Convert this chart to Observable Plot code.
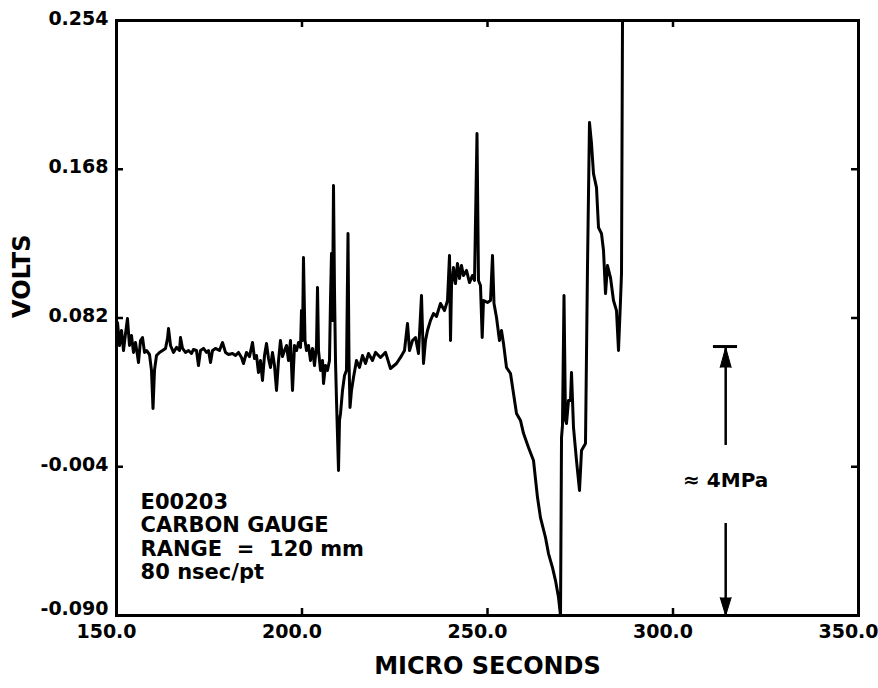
<!DOCTYPE html>
<html>
<head>
<meta charset="utf-8">
<script src="https://cdn.jsdelivr.net/npm/d3@7"></script>
<script src="https://cdn.jsdelivr.net/npm/@observablehq/plot@0.6"></script>
<style>
  html, body { margin: 0; padding: 0; background: #fff; }
  #chart { width: 878px; height: 688px; }
</style>
</head>
<body>
<div id="chart"></div>
<script>
// Time (microseconds) and gauge voltage
const time = [150.0,150.27,150.81,151.35,151.89,152.43,152.96,153.50,154.04,154.58,155.12,155.66,155.93,156.47,157.01,157.55,158.09,158.89,159.43,159.84,160.24,160.78,161.59,162.40,163.21,163.75,164.02,164.56,165.36,166.17,166.98,167.25,167.79,168.60,169.41,170.22,170.75,171.56,172.10,172.64,173.45,174.26,174.80,175.34,175.88,176.68,177.76,178.57,179.38,180.19,181.27,182.08,182.88,183.69,184.23,185.04,185.85,186.66,187.20,187.74,188.27,188.81,189.35,189.89,190.43,190.97,191.51,192.05,192.59,193.13,193.67,194.20,194.74,195.28,195.82,196.36,196.90,197.44,197.98,198.52,199.06,199.60,199.86,200.13,200.40,200.81,201.21,201.75,202.29,202.83,203.37,203.91,204.18,204.45,204.99,205.53,205.80,206.33,206.87,207.41,207.68,207.95,208.22,208.49,208.76,209.03,209.30,209.84,210.11,210.38,210.92,211.46,211.99,212.40,212.67,212.94,213.34,213.88,214.69,215.50,216.31,217.12,217.92,219.00,219.81,221.16,222.51,223.85,225.47,226.55,227.63,228.44,228.98,229.78,230.59,231.40,232.21,232.75,233.29,233.83,234.64,235.44,236.25,237.33,238.41,239.22,239.76,240.03,240.30,240.83,241.37,241.91,242.45,242.99,243.53,244.34,245.15,245.96,246.50,247.17,247.57,248.11,248.57,248.92,250.00,250.81,251.35,251.75,252.43,253.23,253.77,254.31,255.12,256.20,257.01,257.82,258.89,259.70,261.05,262.40,263.48,264.28,265.63,266.44,267.52,268.33,269.14,269.68,269.95,270.21,270.62,271.02,271.29,271.83,272.37,272.64,273.18,273.99,274.80,275.34,276.41,276.95,277.49,278.03,278.57,279.38,279.92,280.73,281.27,281.81,282.34,283.15,283.96,284.77,285.31,285.85,286.12,286.39];
const volts = [0.069,0.0794,0.0661,0.0748,0.0632,0.0730,0.0817,0.0661,0.0719,0.0621,0.0678,0.0603,0.0563,0.0690,0.0707,0.0621,0.0632,0.0609,0.0517,0.0297,0.0517,0.0603,0.0621,0.0632,0.0644,0.0702,0.0759,0.0661,0.0621,0.0650,0.0632,0.0707,0.0644,0.0621,0.0632,0.0615,0.0638,0.0632,0.0545,0.0632,0.0644,0.0621,0.0632,0.0563,0.0632,0.0644,0.0632,0.0678,0.0621,0.0609,0.0615,0.0603,0.0621,0.0592,0.0557,0.0621,0.0597,0.0678,0.0586,0.0603,0.0505,0.0574,0.0459,0.0603,0.0673,0.0586,0.0534,0.0621,0.0545,0.0401,0.0574,0.0690,0.0597,0.0632,0.0661,0.0574,0.0690,0.0401,0.0661,0.0632,0.0678,0.0650,0.0863,0.0690,0.1170,0.0690,0.0632,0.0661,0.0574,0.0644,0.0545,0.0661,0.0996,0.0632,0.0517,0.0574,0.0441,0.0545,0.0517,0.0574,0.0921,0.1193,0.0806,0.1586,0.0979,0.0574,0.0343,-0.0061,0.0228,0.0268,0.0401,0.0488,0.0517,0.1308,0.0574,0.0303,0.0401,0.0476,0.0574,0.0534,0.0603,0.0557,0.0615,0.0574,0.0621,0.0592,0.0621,0.0528,0.0557,0.0592,0.0632,0.0788,0.0632,0.0690,0.0707,0.0615,0.0950,0.0557,0.0690,0.0748,0.0806,0.0846,0.0829,0.0904,0.0863,0.0921,0.1181,0.0690,0.1008,0.1112,0.1019,0.1135,0.1048,0.1123,0.1066,0.1095,0.1025,0.1066,0.1037,0.1886,0.1037,0.1008,0.0707,0.0921,0.0910,0.0921,0.1181,0.0904,0.0823,0.0690,0.0748,0.0673,0.0534,0.0499,0.0384,0.0268,0.0228,0.0153,0.0071,-0.0004,-0.0218,-0.0334,-0.0449,-0.0542,-0.0623,-0.0698,-0.0796,-0.090,0.0129,0.0199,0.0950,0.0228,0.0210,0.0343,0.0343,0.0505,0.0187,-0.0004,-0.0177,0.0054,0.0095,0.1112,0.1950,0.1829,0.1655,0.1574,0.1343,0.1308,0.1210,0.0961,0.1123,0.1054,0.0921,0.0863,0.0632,0.0921,0.1077,0.254];

const xTicks = [150, 200, 250, 300, 350];
const yTicks = [-0.090, -0.004, 0.082, 0.168, 0.254];
const xDomain = [150, 350];
const yDomain = [-0.090, 0.254];

// Annotations
const infoLines = ["E00203", "CARBON GAUGE", "RANGE\u00a0\u00a0=\u00a0\u00a0120 mm", "80 nsec/pt"];
const infoPos = {t: 156.5, v: -0.0188};
const pressureLabel = "\u2248 4MPa";
const pressureArrow = {t: 314.2, top: 0.0655, upperEnd: 0.0083, lowerStart: -0.0368, bottom: -0.090, labelV: -0.0119, barFrom: 310.9, barTo: 317.4, upHeadBase: 0.0534, downHeadBase: -0.0796};

const trace = time.map((t, i) => ({t, v: volts[i]}));

const font = "DejaVu Sans";
const yFmt = d => d.toFixed(3);
const chart = Plot.plot({
  width: 878,
  height: 688,
  marginLeft: 116,
  marginRight: 20,
  marginTop: 20,
  marginBottom: 73,
  style: {fontFamily: font, fontWeight: "bold", background: "white", color: "black", overflow: "visible"},
  x: {domain: xDomain},
  y: {domain: yDomain},
  marks: [
    Plot.frame({stroke: "black", strokeWidth: 3}),
    // inward tick marks on all four sides
    Plot.tickX(xTicks, {x: d => d, insetTop: 588, stroke: "black", strokeWidth: 2.5}),
    Plot.tickX(xTicks, {x: d => d, insetBottom: 588, stroke: "black", strokeWidth: 2.5}),
    Plot.tickY(yTicks, {y: d => d, insetRight: 735, stroke: "black", strokeWidth: 2.5}),
    Plot.tickY(yTicks, {y: d => d, insetLeft: 735, stroke: "black", strokeWidth: 2.5}),
    Plot.axisX({ticks: xTicks, tickSize: 0, tickPadding: 9, dx: -10, tickFormat: d => d.toFixed(1), fontSize: 19, fontWeight: "bold", label: null}),
    Plot.axisY({ticks: yTicks.slice(1), tickSize: 0, tickPadding: 8, dy: -2, tickFormat: yFmt, fontSize: 19, fontWeight: "bold", label: null}),
    Plot.axisY({ticks: yTicks.slice(0, 1), tickSize: 0, tickPadding: 8, dy: -7, tickFormat: yFmt, fontSize: 19, fontWeight: "bold", label: null}),
    Plot.text(["MICRO SECONDS"], {frameAnchor: "bottom", dy: 51, fontSize: 24, fontWeight: "bold", lineAnchor: "middle"}),
    Plot.text(["VOLTS"], {frameAnchor: "left", dx: -94, rotate: -90, fontSize: 24, fontWeight: "bold", lineAnchor: "middle"}),
    // trace
    Plot.line(trace, {x: "t", y: "v", stroke: "black", strokeWidth: 3, strokeLinejoin: "round", clip: true}),
    // info block
    Plot.text([infoLines.join("\n")], {x: () => infoPos.t, y: () => infoPos.v, textAnchor: "start", lineAnchor: "top", lineHeight: 1.11, fontSize: 21, fontWeight: "bold"}),
    // pressure span annotation
    Plot.ruleY([pressureArrow.top], {x1: pressureArrow.barFrom, x2: pressureArrow.barTo, stroke: "black", strokeWidth: 3}),
    Plot.ruleX([pressureArrow.t], {y1: pressureArrow.upperEnd, y2: pressureArrow.top, stroke: "black", strokeWidth: 2.5}),
    Plot.ruleX([pressureArrow.t], {y1: pressureArrow.lowerStart, y2: pressureArrow.bottom, stroke: "black", strokeWidth: 2.5}),
    Plot.vector([pressureArrow], {x: "t", y: "upHeadBase", length: 20, rotate: 0, r: 5.5, shape: "spike", anchor: "start", fill: "black", stroke: "black", strokeWidth: 1}),
    Plot.vector([pressureArrow], {x: "t", y: "downHeadBase", length: 18, rotate: 180, r: 5.5, shape: "spike", anchor: "start", fill: "black", stroke: "black", strokeWidth: 1}),
    Plot.text([pressureLabel], {x: () => pressureArrow.t, y: () => pressureArrow.labelV, textAnchor: "middle", fontSize: 20, fontWeight: "bold"})
  ]
});
document.getElementById("chart").appendChild(chart);
</script>
</body>
</html>
